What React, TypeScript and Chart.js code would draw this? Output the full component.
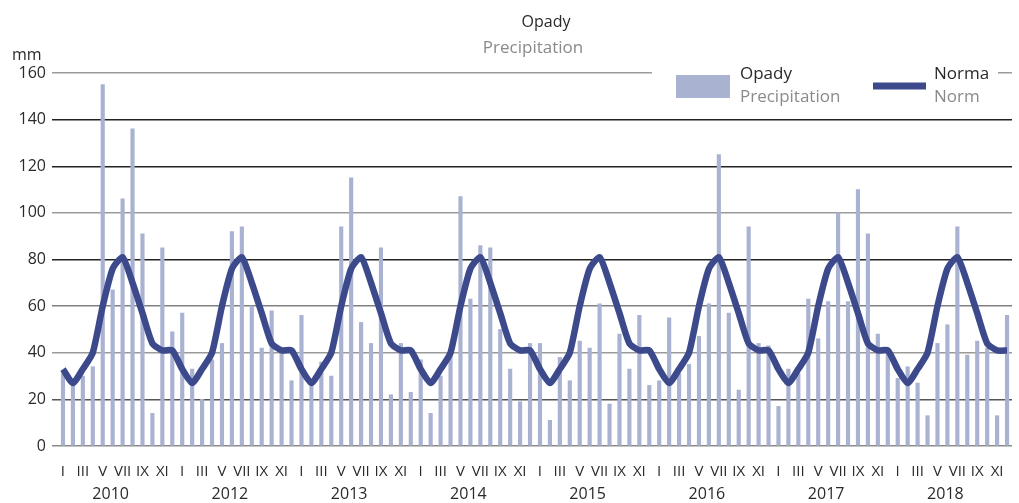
import React, { useEffect, useRef } from "react";
import { Chart, registerables } from "chart.js";

Chart.register(...registerables);

const monthTicks = ["I", "", "III", "", "V", "", "VII", "", "IX", "", "XI", ""];
const yearLabels = ["2010", "2012", "2013", "2014", "2015", "2016", "2017", "2018"];

const precip2010 = [31, 28, 30, 34, 155, 67, 106, 136, 91, 14, 85, 49];
const precipY2 = [57, 33, 20, 37, 44, 92, 94, 60, 42, 58, 41, 28];
const precipY3 = [56, 26, 36, 30, 94, 115, 53, 44, 85, 22, 44, 23];
const precipY4 = [37, 14, 30, 40, 107, 63, 86, 85, 50, 33, 19, 44];
const precipY5 = [44, 11, 38, 28, 45, 42, 61, 18, 48, 33, 56, 26];
const precipY6 = [28, 55, 31, 35, 47, 61, 125, 57, 24, 94, 44, 43];
const precipY7 = [17, 33, 31, 63, 46, 62, 100, 62, 110, 91, 48, 40];
const precipY8 = [29, 34, 27, 13, 44, 52, 94, 39, 45, 42, 13, 56];

const normMonthly = [33, 27, 33, 40, 60, 76, 81, 70, 57, 44, 41, 41];

const yTicks = [0, 20, 40, 60, 80, 100, 120, 140, 160];

const precipitation = [
  ...precip2010, ...precipY2, ...precipY3, ...precipY4,
  ...precipY5, ...precipY6, ...precipY7, ...precipY8,
];
const norm = yearLabels.flatMap(() => normMonthly);
const labels = yearLabels.flatMap(() => monthTicks);

const FONT = "'Open Sans', 'Noto Sans', sans-serif";
const BAR_COLOR = "#aab2d2";
const LINE_COLOR = "#3c4a8c";
const TEXT = "#2a2a2a";
const GRAY_TEXT = "#8a8a8a";

const gridColors: Record<number, string> = {
  0: "#8a8a8a", 20: "#555", 40: "#9a9a9a", 60: "#808080", 80: "#222",
  100: "#9a9a9a", 120: "#222", 140: "#222", 160: "#9a9a9a",
};

const decorPlugin = {
  id: "decor",
  beforeDatasetsDraw(chart: any) {
    const ctx = chart.ctx;
    ctx.save();
    ctx.fillStyle = "#fff";
    ctx.fillRect(652, 66, 346, 14);
    ctx.restore();
  },
  afterDraw(chart: any) {
    const ctx = chart.ctx;
    const xs = chart.scales.x;
    ctx.save();
    ctx.textBaseline = "middle";
    // titles
    ctx.textAlign = "center";
    ctx.fillStyle = TEXT;
    ctx.font = `16px ${FONT}`;
    ctx.fillText("Opady", 546, 22);
    ctx.fillStyle = GRAY_TEXT;
    ctx.font = `17px ${FONT}`;
    ctx.fillText("Precipitation", 533, 48);
    // mm
    ctx.textAlign = "left";
    ctx.fillStyle = TEXT;
    ctx.font = `16px ${FONT}`;
    ctx.fillText("mm", 12, 55);
    // legend
    ctx.fillStyle = BAR_COLOR;
    ctx.fillRect(676, 75, 54, 23);
    ctx.strokeStyle = LINE_COLOR;
    ctx.lineWidth = 7;
    ctx.beginPath();
    ctx.moveTo(873, 86);
    ctx.lineTo(926, 86);
    ctx.stroke();
    ctx.font = `17px ${FONT}`;
    ctx.fillStyle = TEXT;
    ctx.fillText("Opady", 740, 74);
    ctx.fillText("Norma", 934, 74);
    ctx.fillStyle = GRAY_TEXT;
    ctx.fillText("Precipitation", 740, 97);
    ctx.fillText("Norm", 934, 97);
    // year labels
    ctx.textAlign = "center";
    ctx.fillStyle = TEXT;
    ctx.font = `16px ${FONT}`;
    yearLabels.forEach((y, k) => {
      const a = xs.getPixelForValue(k * 12 + 4);
      const b = xs.getPixelForValue(k * 12 + 5);
      ctx.fillText(y, a + 0.8 * (b - a), 494);
    });
    ctx.restore();
  },
};

export default function App() {
  const ref = useRef<HTMLCanvasElement | null>(null);
  useEffect(() => {
    document.body.style.margin = "0";
    const chart = new Chart(ref.current as HTMLCanvasElement, {
      type: "bar",
      data: {
        labels,
        datasets: [
          {
            type: "line",
            label: "Norma",
            data: norm,
            borderColor: LINE_COLOR,
            borderWidth: 6.5,
            pointRadius: 0,
            tension: 0.2,
            order: 0,
          } as any,
          {
            type: "bar",
            label: "Opady",
            data: precipitation,
            backgroundColor: BAR_COLOR,
            barThickness: 3.5,
            order: 1,
          },
        ],
      },
      options: {
        animation: false,
        responsive: false,
        layout: { padding: { left: 0, right: 7, top: 73, bottom: 0 } },
        plugins: { legend: { display: false }, tooltip: { enabled: false }, title: { display: false } },
        scales: {
          x: {
            grid: { display: false },
            border: { display: false },
            ticks: {
              autoSkip: false,
              maxRotation: 0,
              minRotation: 0,
              padding: 9,
              color: TEXT,
              font: { family: FONT, size: 15 },
            },
            afterFit: (s: any) => { s.height = 57; },
          },
          y: {
            min: 0,
            max: 160,
            afterBuildTicks: (s: any) => { s.ticks = yTicks.map((v) => ({ value: v })); },
            grid: {
              color: (c: any) => gridColors[c.tick?.value] ?? "#999",
              lineWidth: 1.5,
              tickLength: 6,
            },
            border: { display: false },
            ticks: {
              padding: 6,
              color: TEXT,
              font: { family: FONT, size: 16 },
            },
            afterFit: (s: any) => { s.width = 58; },
          },
        },
      },
      plugins: [decorPlugin],
    });
    return () => chart.destroy();
  }, []);
  return (
    <div style={{ position: "absolute", left: 0, top: 0, width: 1019, height: 503 }}>
      <canvas ref={ref} width={1019} height={503} style={{ width: 1019, height: 503 }} />
    </div>
  );
}
